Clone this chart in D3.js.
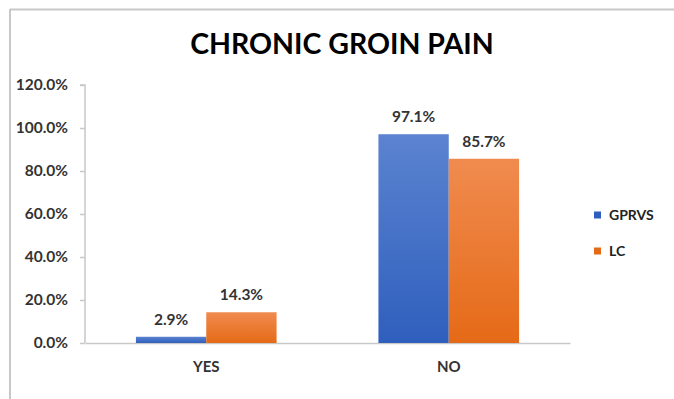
<!DOCTYPE html>
<html>
<head>
<meta charset="utf-8">
<script src="https://cdn.jsdelivr.net/npm/d3@7"></script>
<style>
  html, body { margin: 0; padding: 0; background: #fff; }
  svg { display: block; }
  text { font-family: Lato, "Open Sans", sans-serif; }
</style>
</head>
<body>
<svg id="chart" width="674" height="399"></svg>
<script>
// Chart data
const categories = ["YES", "NO"];
const seriesNames = ["GPRVS", "LC"];
const gprvsValues = [2.9, 97.1];
const lcValues = [14.3, 85.7];
const yTicks = [0, 20, 40, 60, 80, 100, 120];
const titleText = "CHRONIC GROIN PAIN";

const seriesValues = [gprvsValues, lcValues];
const colors = { GPRVS: ["#5b83d0", "#2f5fbd"], LC: ["#f08b4f", "#e56a17"] };

const svg = d3.select("#chart");
const W = 674, H = 399;
const plot = { left: 85, right: 570, top: 85, bottom: 343 };
const labelFont = "Lato, sans-serif";

// Outer frame (top and left edges visible)
svg.append("line").attr("x1", 10).attr("x2", W).attr("y1", 9.5).attr("y2", 9.5)
  .attr("stroke", "#c8c8c8").attr("stroke-width", 2);
svg.append("line").attr("x1", 10).attr("x2", 10).attr("y1", 9).attr("y2", H)
  .attr("stroke", "#c8c8c8").attr("stroke-width", 2);

// Gradients for bar fills
const defs = svg.append("defs");
seriesNames.forEach(name => {
  const g = defs.append("linearGradient").attr("id", "grad-" + name)
    .attr("x1", 0).attr("x2", 0).attr("y1", 0).attr("y2", 1);
  g.append("stop").attr("offset", "0%").attr("stop-color", colors[name][0]);
  g.append("stop").attr("offset", "100%").attr("stop-color", colors[name][1]);
});

// Scales
const x0 = d3.scaleBand().domain(categories).range([plot.left, plot.right])
  .paddingInner(0.42).paddingOuter(0.21);
const x1 = d3.scaleBand().domain(seriesNames).range([0, x0.bandwidth()]);
const y = d3.scaleLinear().domain([0, 120]).range([plot.bottom, plot.top]);

// Title
svg.append("text").attr("x", 342).attr("y", 54).attr("text-anchor", "middle")
  .attr("font-size", 28.5).attr("font-weight", 700).attr("fill", "#000")
  .text(titleText);

// Y axis
const yAxis = d3.axisLeft(y).tickValues(yTicks).tickSize(5).tickPadding(12)
  .tickFormat(d => d3.format(".1f")(d) + "%");
const yg = svg.append("g").attr("transform", `translate(${plot.left},0)`).call(yAxis);
yg.select(".domain").attr("stroke", "#c8c8c8").attr("stroke-width", 1.5)
  .attr("d", `M-5,${y(120)}H0V${y(0)}`);
yg.selectAll(".tick line").attr("stroke", "#c8c8c8").attr("stroke-width", 1.5);
yg.selectAll(".tick text").attr("font-size", 15.5).attr("font-weight", 700)
  .attr("fill", "#333").style("font-family", labelFont);

// X axis
const xAxis = d3.axisBottom(x0).tickSize(0).tickPadding(18);
const xg = svg.append("g").attr("transform", `translate(0,${plot.bottom})`).call(xAxis);
xg.select(".domain").attr("stroke", "#c8c8c8").attr("stroke-width", 1.5);
xg.selectAll(".tick text").attr("font-size", 15).attr("font-weight", 700)
  .attr("fill", "#333").style("font-family", labelFont);

// Bars
const groups = svg.append("g").selectAll("g").data(categories).join("g")
  .attr("transform", d => `translate(${x0(d)},0)`);

groups.selectAll("rect")
  .data((c, i) => seriesNames.map((s, k) => ({ s, v: seriesValues[k][i] })))
  .join("rect")
  .attr("x", d => x1(d.s))
  .attr("width", x1.bandwidth())
  .attr("y", d => y(d.v))
  .attr("height", d => y(0) - y(d.v))
  .attr("fill", d => `url(#grad-${d.s})`);

// Value labels
groups.selectAll("text.val")
  .data((c, i) => seriesNames.map((s, k) => ({ s, v: seriesValues[k][i] })))
  .join("text").attr("class", "val")
  .attr("x", d => x1(d.s) + x1.bandwidth() / 2)
  .attr("y", d => y(d.v) - 12)
  .attr("text-anchor", "middle")
  .attr("font-size", 15.5).attr("font-weight", 700).attr("fill", "#333")
  .text(d => d3.format(".1f")(d.v) + "%");

// Legend
const legend = svg.append("g");
const legendY = [215, 251];
seriesNames.forEach((name, i) => {
  legend.append("rect").attr("x", 594).attr("y", legendY[i] - 3.5)
    .attr("width", 7).attr("height", 7).attr("fill", colors[name][1]);
  legend.append("text").attr("x", 609).attr("y", legendY[i] + 5)
    .attr("font-size", 14).attr("font-weight", 700).attr("fill", "#222")
    .text(name);
});
</script>
</body>
</html>
